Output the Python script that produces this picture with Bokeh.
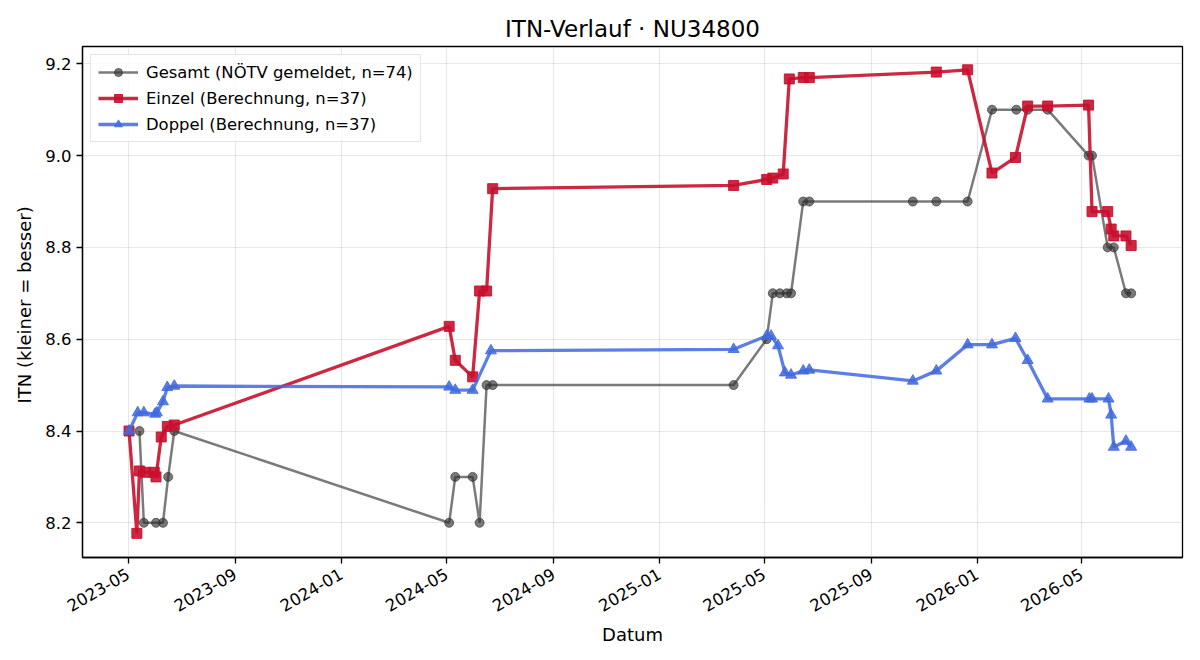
import math
import pandas as pd
from bokeh.plotting import figure
from bokeh.models import FixedTicker, DatetimeTickFormatter, PrintfTickFormatter, Range1d
from bokeh.embed import file_html
from bokeh.resources import INLINE

title_text = "ITN-Verlauf · NU34800"

gesamt_dates = ["2023-05-14", "2023-05-19", "2023-06-02", "2023-06-10", "2023-06-16", "2023-06-23",
                "2024-05-04", "2024-05-11", "2024-05-31", "2024-06-08", "2024-06-16", "2024-06-23",
                "2025-03-27", "2025-05-04", "2025-05-11", "2025-05-19", "2025-05-27", "2025-06-01",
                "2025-06-15", "2025-06-22", "2025-10-19", "2025-11-15", "2025-12-21", "2026-01-18",
                "2026-02-15", "2026-02-28", "2026-03-23", "2026-05-09", "2026-05-13", "2026-05-31",
                "2026-06-07", "2026-06-21", "2026-06-27"]
gesamt_vals = [8.4, 8.2, 8.2, 8.2, 8.3, 8.4,
               8.2, 8.3, 8.3, 8.2, 8.5, 8.5,
               8.5, 8.6, 8.7, 8.7, 8.7, 8.7,
               8.9, 8.9, 8.9, 8.9, 8.9, 9.1,
               9.1, 9.1, 9.1, 9.0, 9.0, 8.8,
               8.8, 8.7, 8.7]

einzel_dates = ["2023-05-02", "2023-05-11", "2023-05-14", "2023-05-21", "2023-05-31", "2023-06-02",
                "2023-06-08", "2023-06-15", "2023-06-23",
                "2024-05-04", "2024-05-11", "2024-05-31", "2024-06-08", "2024-06-16", "2024-06-23",
                "2025-03-27", "2025-05-04", "2025-05-11", "2025-05-23", "2025-05-30", "2025-06-15",
                "2025-06-22", "2025-11-15", "2025-12-21", "2026-01-18", "2026-02-14", "2026-02-28",
                "2026-03-23", "2026-05-09", "2026-05-13", "2026-05-31", "2026-06-04", "2026-06-07",
                "2026-06-21", "2026-06-27"]
einzel_vals = [8.40, 8.177, 8.313, 8.31, 8.31, 8.30, 8.387, 8.41, 8.413,
               8.628, 8.554, 8.518, 8.705, 8.705, 8.928,
               8.935, 8.948, 8.951, 8.96, 9.167, 9.170, 9.170,
               9.182, 9.187, 8.962, 8.996, 9.108, 9.108,
               9.11, 8.878, 8.878, 8.840, 8.825, 8.825, 8.804]

doppel_dates = ["2023-05-02", "2023-05-12", "2023-05-19", "2023-06-01", "2023-06-03", "2023-06-10",
                "2023-06-15", "2023-06-23",
                "2024-05-04", "2024-05-11", "2024-05-31", "2024-06-21",
                "2025-03-27", "2025-05-04", "2025-05-09", "2025-05-17", "2025-05-25", "2025-06-01",
                "2025-06-15", "2025-06-22", "2025-10-19", "2025-11-15", "2025-12-21", "2026-01-18",
                "2026-02-14", "2026-02-28", "2026-03-23", "2026-05-10", "2026-05-13", "2026-06-01",
                "2026-06-04", "2026-06-07", "2026-06-21", "2026-06-27"]
doppel_vals = [8.40, 8.44, 8.44, 8.437, 8.44, 8.464, 8.495, 8.498,
               8.496, 8.489, 8.489, 8.575,
               8.578, 8.607, 8.607, 8.586, 8.527, 8.522, 8.531, 8.533,
               8.509, 8.531, 8.588, 8.588, 8.602, 8.554, 8.470,
               8.47, 8.47, 8.47, 8.435, 8.365, 8.378, 8.365]

x_tick_labels = ["2023-05", "2023-09", "2024-01", "2024-05", "2024-09",
                 "2025-01", "2025-05", "2025-09", "2026-01", "2026-05"]
y_ticks = [8.2, 8.4, 8.6, 8.8, 9.0, 9.2]

labels = ["Gesamt (NÖTV gemeldet, n=74)", "Einzel (Berechnung, n=37)", "Doppel (Berechnung, n=37)"]

FONT = "DejaVu Sans"

x_start = pd.Timestamp("2023-03-09 12:00")
x_end = pd.Timestamp("2026-08-25")

p = figure(width=1200, height=660, x_axis_type="datetime",
           output_backend="svg", toolbar_location=None,
           x_range=Range1d(x_start, x_end), y_range=Range1d(8.1244, 9.2377),
           min_border_left=82, min_border_right=18, min_border_top=46, min_border_bottom=103)

p.title.text = title_text
p.title.text_font = FONT
p.title.text_font_size = "23px"
p.title.text_font_style = "normal"
p.title.align = "center"
p.title.text_color = "black"

p.background_fill_color = "white"
p.border_fill_color = "white"
p.outline_line_color = "black"
p.outline_line_width = 1.3
p.outline_line_alpha = 1.0

# grid
p.xgrid.grid_line_color = "#b0b0b0"
p.ygrid.grid_line_color = "#b0b0b0"
p.xgrid.grid_line_alpha = 0.3
p.ygrid.grid_line_alpha = 0.3
p.xgrid.grid_line_width = 1.2
p.ygrid.grid_line_width = 1.2

tick_ms = [pd.Timestamp(t + "-01").value // 10**6 for t in x_tick_labels]
p.xaxis.ticker = FixedTicker(ticks=tick_ms)
fmt = "%Y-%m"
p.xaxis.formatter = DatetimeTickFormatter(years=fmt, months=fmt, days=fmt, hours=fmt,
                                          minutes=fmt, seconds=fmt, milliseconds=fmt,
                                          microseconds=fmt, minsec=fmt, hourmin=fmt)
p.xaxis.major_label_orientation = math.pi / 6
p.yaxis.ticker = FixedTicker(ticks=y_ticks)
p.yaxis.formatter = PrintfTickFormatter(format="%.1f")

for ax in (p.xaxis, p.yaxis):
    ax.major_label_text_font = FONT
    ax.major_label_text_font_size = "16.5px"
    ax.major_label_text_color = "black"
    ax.axis_label_text_font = FONT
    ax.axis_label_text_font_size = "18px"
    ax.axis_label_text_font_style = "normal"
    ax.axis_label_text_color = "black"
    ax.axis_line_color = "black"
    ax.axis_line_width = 1.3
    ax.major_tick_line_color = "black"
    ax.major_tick_line_width = 1.3
    ax.major_tick_out = 6
    ax.major_tick_in = 0
    ax.minor_tick_line_color = None

p.yaxis.major_label_standoff = 5
p.xaxis.major_label_standoff = 9

p.xaxis.axis_label = "Datum"
p.yaxis.axis_label = "ITN  (kleiner = besser)"
p.xaxis.axis_label_standoff = 4
p.yaxis.axis_label_standoff = 7

gx = pd.to_datetime(gesamt_dates)
ex = pd.to_datetime(einzel_dates)
dx = pd.to_datetime(doppel_dates)

gray = "#333333"
red = "#c8102e"
blue = "#4169e1"

p.line(gx, gesamt_vals, line_color=gray, line_alpha=0.65, line_width=2.5, legend_label=labels[0])
p.scatter(gx, gesamt_vals, marker="circle", size=9, fill_color=gray, line_color=gray,
          fill_alpha=0.65, line_alpha=0.65, legend_label=labels[0])

p.line(ex, einzel_vals, line_color=red, line_alpha=0.9, line_width=3.3, legend_label=labels[1])
p.scatter(ex, einzel_vals, marker="square", size=10, fill_color=red, line_color=red,
          fill_alpha=0.9, line_alpha=0.9, legend_label=labels[1])

p.line(dx, doppel_vals, line_color=blue, line_alpha=0.85, line_width=3.3, legend_label=labels[2])
p.scatter(dx, doppel_vals, marker="triangle", size=11, fill_color=blue, line_color=blue,
          fill_alpha=0.85, line_alpha=0.85, legend_label=labels[2])

lg = p.legend[0]
lg.location = "top_left"
lg.margin = 8
lg.padding = 7
lg.spacing = 6
lg.glyph_width = 40
lg.glyph_height = 20
lg.label_standoff = 8
lg.label_text_font = FONT
lg.label_text_font_size = "16.4px"
lg.label_text_color = "black"
lg.border_line_color = "#cccccc"
lg.border_line_width = 1.3
lg.background_fill_alpha = 0.8
lg.label_height = 20

open("out.html", "w").write(file_html(p, INLINE))
